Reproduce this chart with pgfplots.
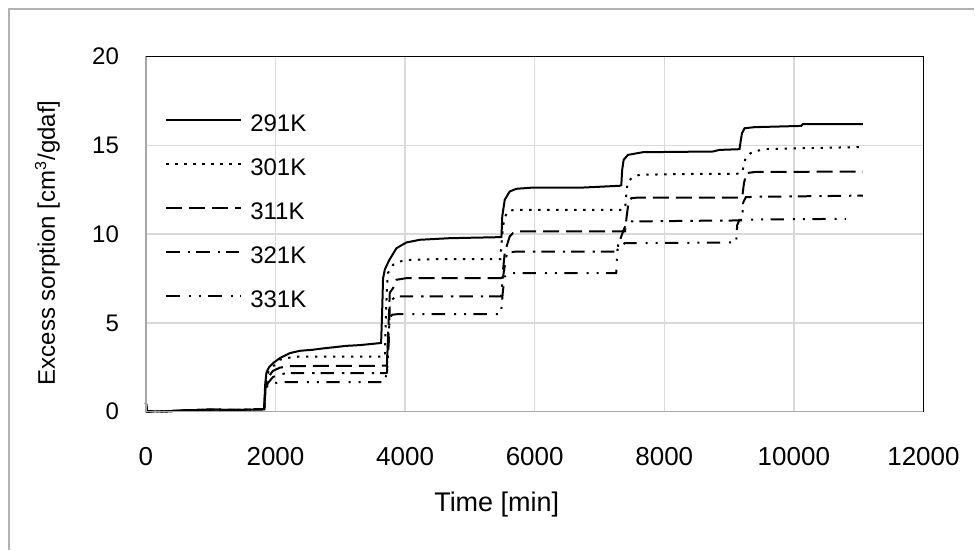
\documentclass[border=0pt]{standalone}
\usepackage{fontspec}
\setmainfont{Liberation Sans}
\usepackage{pgfplots}
\pgfplotsset{compat=1.18}
\begin{document}
\begin{tikzpicture}
\begin{axis}[
  name=ax,
  scale only axis,
  width=389pt, height=177.75pt,
  xmin=0, xmax=12000, ymin=0, ymax=20,
  xtick={0,2000,...,12000}, ytick={0,5,...,20},
  scaled x ticks=false, scaled y ticks=false,
  /pgf/number format/assume math mode=true,
  /pgf/number format/1000 sep={},
  font=\fontsize{12}{14}\selectfont,
  major tick length=0pt,
  xticklabel style={font=\fontsize{13}{15}\selectfont, yshift=-14.5pt},
  yticklabel style={font=\fontsize{12}{14}\selectfont, xshift=-10pt},
  grid=major,
  major grid style={draw=gray!30, line width=0.75pt},
  axis line style={draw=none},
  clip=false,
  xlabel={Time [min]},
  ylabel={Excess sorption [cm\textsuperscript{3}/gdaf]},
  xlabel style={font=\fontsize{13.5}{15}\selectfont, at={(axis description cs:0.4512,0)}, anchor=base, yshift=-49.85pt},
  ylabel style={at={(axis description cs:-0.117,0.4754)}, anchor=base},
  legend cell align=left,
  legend image code/.code={\draw[#1] (0pt,1.5pt) -- (37.5pt,1.5pt);},
  legend style={at={(axis description cs:0.025,0.838)}, anchor=north west,
    draw=none, fill=none, inner sep=0pt, outer sep=0pt,
    row sep=13.5pt, column sep=4pt,
    nodes={inner sep=0pt, text height=8.6pt, text depth=0pt},
    font=\fontsize{12}{14}\selectfont},
]
\addplot[black, line width=1pt] coordinates {
(0,0.5) (15,0.02) (300,0.02) (600,0.08) (1000,0.12) (1400,0.1) (1800,0.14) (1825,0.15)
(1840,1.5) (1860,2.2) (1900,2.5) (1963,2.74) (2067,3.02) (2221,3.30) (2375,3.43) (2576,3.49)
(2700,3.55) (3096,3.71) (3300,3.75) (3630,3.87)
(3645,5.5) (3660,7.5) (3687,8.0) (3750,8.5) (3790,8.74) (3867,9.21) (4021,9.53) (4226,9.68)
(4689,9.77) (5487,9.83)
(5500,11.0) (5538,11.93) (5615,12.40) (5718,12.55) (5974,12.62) (6741,12.62) (7312,12.72) (7337,12.75)
(7350,13.6) (7373,14.18) (7439,14.46) (7671,14.61) (8750,14.65) (8854,14.74) (9162,14.78)
(9178,15.2) (9200,15.68) (9240,15.96) (9394,16.02) (10114,16.09) (10139,16.19) (11065,16.19)
};
\addlegendentry{291K}
\addplot[black, line width=1pt, dash pattern=on 1.2pt off 3.3pt] coordinates {
(0,0.5) (15,0.02) (300,0.02) (600,0.08) (1000,0.12) (1400,0.1) (1800,0.14) (1825,0.15)
(1840,1.2) (1860,2.0) (1900,2.3) (1963,2.55) (2067,2.93) (2221,3.05) (2350,3.10) (3690,3.11)
(3700,5.0) (3720,7.0) (3737,7.82) (3814,8.27) (3918,8.46) (4072,8.55) (4500,8.59) (5470,8.59)
(5500,10.0) (5530,10.9) (5590,11.30) (5700,11.37) (7380,11.37)
(7400,11.6) (7420,12.5) (7440,12.96) (7517,13.21) (7620,13.34) (8500,13.39) (9110,13.39)
(9200,13.45) (9250,14.2) (9266,14.37) (9368,14.65) (9574,14.78) (10200,14.84) (11065,14.9)
};
\addlegendentry{301K}
\addplot[black, line width=1pt, dash pattern=on 8pt off 3.5pt] coordinates {
(0,0.5) (15,0.02) (300,0.02) (600,0.08) (1000,0.12) (1400,0.1) (1800,0.14) (1825,0.15)
(1845,1.3) (1880,1.9) (1960,2.3) (2067,2.48) (2221,2.57) (3700,2.59)
(3720,2.6) (3740,4.5) (3764,6.7) (3814,6.96) (3867,7.43) (4021,7.52) (5470,7.52)
(5500,7.55) (5540,9.0) (5615,9.87) (5666,10.06) (5769,10.15) (7395,10.15)
(7420,11.0) (7450,11.83) (7492,12.02) (7600,12.06) (9150,12.06)
(9204,12.1) (9230,12.86) (9266,13.43) (9400,13.50) (11065,13.52)
};
\addlegendentry{311K}
\addplot[black, line width=1pt, dash pattern=on 6.7pt off 4pt on 1.2pt off 3pt] coordinates {
(0,0.5) (15,0.02) (300,0.02) (600,0.08) (1000,0.12) (1400,0.1) (1800,0.14) (1825,0.15)
(1845,1.1) (1880,1.6) (1960,1.95) (2067,2.12) (2221,2.17) (3700,2.18)
(3720,2.2) (3750,4.0) (3764,6.0) (3790,6.30) (3867,6.49) (5440,6.49)
(5480,6.5) (5507,7.5) (5568,8.84) (5615,8.97) (5718,9.02) (7280,9.02)
(7290,9.4) (7380,10.3) (7420,10.6) (7466,10.71) (8500,10.75) (9200,10.77)
(9220,11.8) (9260,12.08) (9400,12.10) (10700,12.15) (11065,12.17)
};
\addlegendentry{321K}
\addplot[black, line width=1pt, dash pattern=on 6.7pt off 4.5pt on 1pt off 4pt on 1pt off 3.7pt] coordinates {
(0,0.5) (15,0.02) (300,0.02) (600,0.08) (1000,0.12) (1400,0.1) (1800,0.14) (1825,0.15)
(1840,0.9) (1870,1.42) (1960,1.6) (2100,1.67) (3700,1.67)
(3730,3.5) (3764,5.27) (3800,5.46) (3900,5.50) (5470,5.50)
(5480,5.52) (5510,6.8) (5538,7.61) (5600,7.75) (5666,7.80) (7255,7.80)
(7260,7.85) (7275,9.1) (7330,9.3) (7388,9.49) (9110,9.53)
(9112,9.6) (9125,10.5) (9160,10.8) (9300,10.82) (10808,10.86)
};
\addlegendentry{331K}
\end{axis}
\draw[gray!70, line width=0.75pt] (ax.south west) -- (ax.north west);
\draw[gray!70, line width=0.75pt] (ax.south west) -- (ax.south east);
\draw[black, line width=0.75pt] (ax.north west) -- (ax.north east) -- (ax.south east);
\draw[gray!60, line width=0.6pt] ([shift={(-68.5pt,-69pt)}]ax.south west) -- ([shift={(-68.5pt,23.75pt)}]ax.north west) -- ([shift={(25.5pt,23.75pt)}]ax.north east);
\path[use as bounding box] ([shift={(-73pt,-69pt)}]ax.south west) rectangle ([shift={(25.5pt,28.25pt)}]ax.north east);
\end{tikzpicture}
\end{document}
